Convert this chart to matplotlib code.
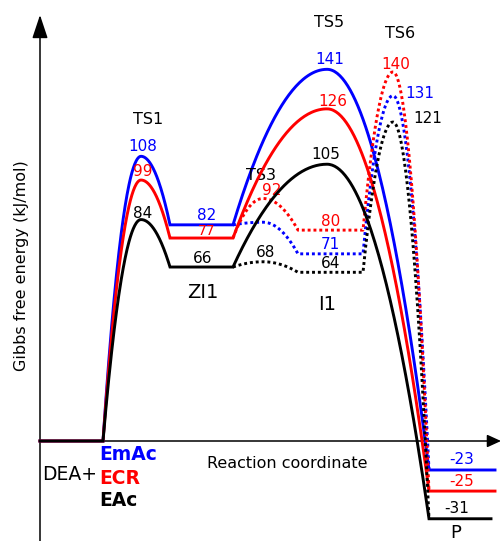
import matplotlib
matplotlib.use("Agg")
import matplotlib.pyplot as plt
import numpy as np

# Gibbs free energies (kJ/mol) per pathway
SPECIES = ["EmAc", "ECR", "EAc"]
COLORS = ["#0000ff", "#ff0000", "#000000"]
TS1 = [108, 99, 84]
ZI1 = [82, 77, 66]
TS5 = [141, 126, 105]
TS3 = [83, 92, 68]   # EmAc TS3 has no label, only a tiny bump above ZI1
I1 = [71, 80, 64]
TS6 = [131, 140, 121]
P = [-23, -25, -31]
# product levels are not to scale in the original; heights as drawn
P_DRAWN = [-11, -19, -29.5]

# reaction coordinate layout (arbitrary units)
X_R = (0, 63)
X_TS1 = 101
X_ZI1 = (130, 193)
X_TS3 = 223
X_I1 = (258, 323)
X_TS5 = 287
X_TS6 = 353
X_P = (389, 455)
P_END = [455, 455, 451]

PX = 2.636  # pixels per kJ/mol at dpi 100


def barrier(x0, y0, xp, yp, x1, y1, n=80):
    xl = np.linspace(x0, xp, n)
    yl = yp - (yp - y0) * ((xl - xp) / (x0 - xp)) ** 2
    xr = np.linspace(xp, x1, n)
    yr = yp - (yp - y1) * ((xr - xp) / (x1 - xp)) ** 2
    return np.r_[xl, xr[1:]], np.r_[yl, yr[1:]]


fig = plt.figure(figsize=(5.03, 5.41), dpi=100)
ax = fig.add_axes([0, 0, 1, 1])
ax.set_xlim(-40, 463)
ax.set_ylim(-100 / PX, 441 / PX)
ax.axis("off")

# axes with arrow heads
ax.annotate("", xy=(0, 426 / PX), xytext=(0, -100 / PX),
            arrowprops=dict(arrowstyle="-|>,head_length=1.2,head_width=0.4", mutation_scale=12,
                            color="black", lw=1.1, shrinkA=0, shrinkB=0))
ax.annotate("", xy=(461, 0), xytext=(0, 0),
            arrowprops=dict(arrowstyle="-|>,head_length=0.7,head_width=0.32", mutation_scale=12,
                            color="black", lw=1.1, shrinkA=0, shrinkB=0))

for i in range(3):
    c = COLORS[i]
    pd = P_DRAWN[i]
    # solid path: R -> TS1 -> ZI1 -> TS5 -> P
    x1, y1 = barrier(X_R[1], 0, X_TS1, TS1[i], X_ZI1[0], ZI1[i])
    x2, y2 = barrier(X_ZI1[1], ZI1[i], X_TS5, TS5[i], X_P[0], pd)
    xs = np.r_[X_R[0], x1, x2, P_END[i]]
    ys = np.r_[0, y1, y2, pd]
    ax.plot(xs, ys, color=c, lw=2.1, solid_joinstyle="miter", zorder=3 + i)
    # dotted path: ZI1 -> TS3 -> I1 -> TS6 -> P
    x3, y3 = barrier(X_ZI1[1], ZI1[i], X_TS3, TS3[i], X_I1[0], I1[i])
    x4, y4 = barrier(X_I1[1], I1[i], X_TS6, TS6[i], X_P[0], pd)
    ax.plot(np.r_[x3, x4], np.r_[y3, y4], color=c, lw=2.1, ls=(0, (1, 1)), zorder=3 + i)


def label(x, y, txt, color, dx=0, dy=4, size=11):
    ax.annotate(txt, (x, y), xytext=(dx, dy), textcoords="offset pixels",
                ha="center", va="baseline", color=color, fontsize=size)


zi1_mid = (X_ZI1[0] + X_ZI1[1]) / 2
i1_mid = (X_I1[0] + X_I1[1]) / 2
p_mid = (X_P[0] + X_P[1]) / 2
for i in range(3):
    c = COLORS[i]
    label(X_TS1, TS1[i], str(TS1[i]), c, dx=2, dy=[5, 4, 2][i])
    # ZI1 levels sit close together, so the middle label is a bit smaller
    label(zi1_mid, ZI1[i], str(ZI1[i]), c, dx=[5, 5, 1][i], dy=[5, 3, 4][i],
          size=[11, 10, 11][i])
    label(X_TS5, TS5[i], str(TS5[i]), c, dx=[3, 6, -1][i], dy=[5, 3, 5][i])
    label(i1_mid, I1[i], str(I1[i]), c, dy=[5, 4, 4][i])
    label(p_mid, P_DRAWN[i], str(P[i]), c, dx=[0, 0, -5][i], dy=[6, 5, 6][i])
    if i > 0:
        label(X_TS3, TS3[i], str(TS3[i]), c, dx=[0, 9, 3][i], dy=[0, 3, 5][i])
    label(X_TS6, TS6[i], str(TS6[i]), c, dx=[27, 3, 35][i], dy=[-2, 3, -1][i])

# state names
ax.text(108, 322 / PX, "TS1", ha="center", va="center", fontsize=11.5)
ax.text(221, 265 / PX, "TS3", ha="center", va="center", fontsize=11.5)
ax.text(289, 418.5 / PX, "TS5", ha="center", va="center", fontsize=11.5)
ax.text(360, 407.5 / PX, "TS6", ha="center", va="center", fontsize=11.5)
ax.text(163, 148.5 / PX, "ZI1", ha="center", va="center", fontsize=14)
ax.text(287, 136 / PX, "I1", ha="center", va="center", fontsize=14)
ax.text(416, -97 / PX, "P", ha="center", va="baseline", fontsize=13)

# reactants and axis titles
ax.text(247, -23 / PX, "Reaction coordinate", ha="center", va="center", fontsize=11.5)
ax.text(-18, 175 / PX, "Gibbs free energy (kJ/mol)", ha="center", va="center",
        rotation=90, fontsize=11.5)
ax.text(30, -34 / PX, "DEA+", ha="center", va="center", fontsize=13.5)
for name, c, py in zip(SPECIES, COLORS, [455, 478, 500]):
    ax.text(59, (441 - py) / PX, name, ha="left", va="center", color=c,
            fontsize=13.5, fontweight="bold")

fig.savefig("out.png", dpi=100)
